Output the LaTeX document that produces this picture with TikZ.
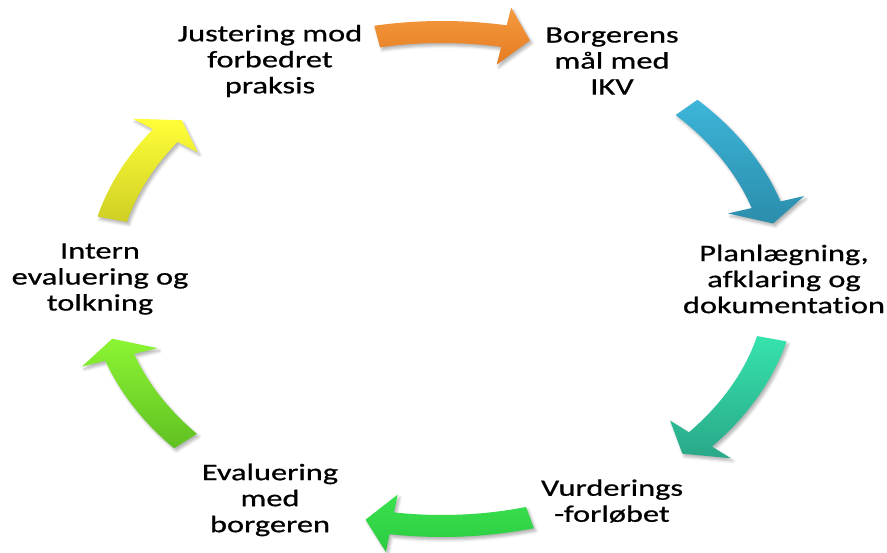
\documentclass[tikz,border=0pt]{standalone}
\usepackage{fontspec}
\setmainfont{Carlito}[FakeStretch=1.37, FakeBold=0.7, Ligatures=NoCommon]
\usepackage{tikz}
\usetikzlibrary{shadows.blur}

\definecolor{orangeTop}{HTML}{F59A3F}
\definecolor{orangeBot}{HTML}{E57C22}
\definecolor{blueTop}{HTML}{3DB5D9}
\definecolor{blueBot}{HTML}{2B8DAB}
\definecolor{tealTop}{HTML}{36E3AD}
\definecolor{tealBot}{HTML}{29A888}
\definecolor{greenTop}{HTML}{3AE250}
\definecolor{greenBot}{HTML}{2CCB40}
\definecolor{limeTop}{HTML}{8CF533}
\definecolor{limeBot}{HTML}{60C022}
\definecolor{yellowTop}{HTML}{FFFF38}
\definecolor{yellowBot}{HTML}{CFCF25}

\tikzset{
  steptext/.style={align=center, inner sep=0pt,
    font=\fontsize{16.8}{18.5}\selectfont},
  arrowshadow/.style={blur shadow={shadow xshift=1.5pt, shadow yshift=-2pt,
    shadow blur radius=2pt, shadow opacity=30}}
}

% curved block arrow on the cycle: tail angle, tip angle, top colour, bottom colour
\newcommand{\cyclearrow}[4]{%
  \pgfmathsetmacro{\ahead}{#2-4.5*sign(#2-#1)}%
  \shade[top color=#3, bottom color=#4, arrowshadow]
    (#1:258) arc[start angle=#1, end angle=\ahead, radius=258]
    -- (\ahead:276) -- (#2:247) -- (\ahead:218) -- (\ahead:236)
    arc[start angle=\ahead, end angle=#1, radius=236] -- cycle;}

\begin{document}
\begin{tikzpicture}[x=0.025cm, y=0.025cm]
  \useasboundingbox (0,0) rectangle (887,552);

  % the six steps
  \node[steptext] (borger)  at (612,491) {Borgerens\\mål med\\IKV};
  \node[steptext] (plan)    at (784,273) {Planlægning,\\afklaring og\\dokumentation};
  \node[steptext] (vurder)  at (612,51)  {Vurderings\\-forløbet};
  \node[steptext] (evalmed) at (270,52)  {Evaluering\\med\\borgeren};
  \node[steptext] (intern)  at (100,273) {Intern\\evaluering og\\tolkning};
  \node[steptext] (juster)  at (270,491) {Justering mod\\forbedret\\praksis};

  % arrows round the cycle
  \begin{scope}[shift={(442,273)}, xscale=1.376]
    \cyclearrow{101}{75}{orangeTop}{orangeBot}
    \cyclearrow{44}{13}{blueTop}{blueBot}
    \cyclearrow{-14}{-45}{tealTop}{tealBot}
    \cyclearrow{-75}{-103}{greenTop}{greenBot}
    \cyclearrow{221}{194}{limeTop}{limeBot}
    \cyclearrow{166}{140}{yellowTop}{yellowBot}
  \end{scope}
\end{tikzpicture}
\end{document}
